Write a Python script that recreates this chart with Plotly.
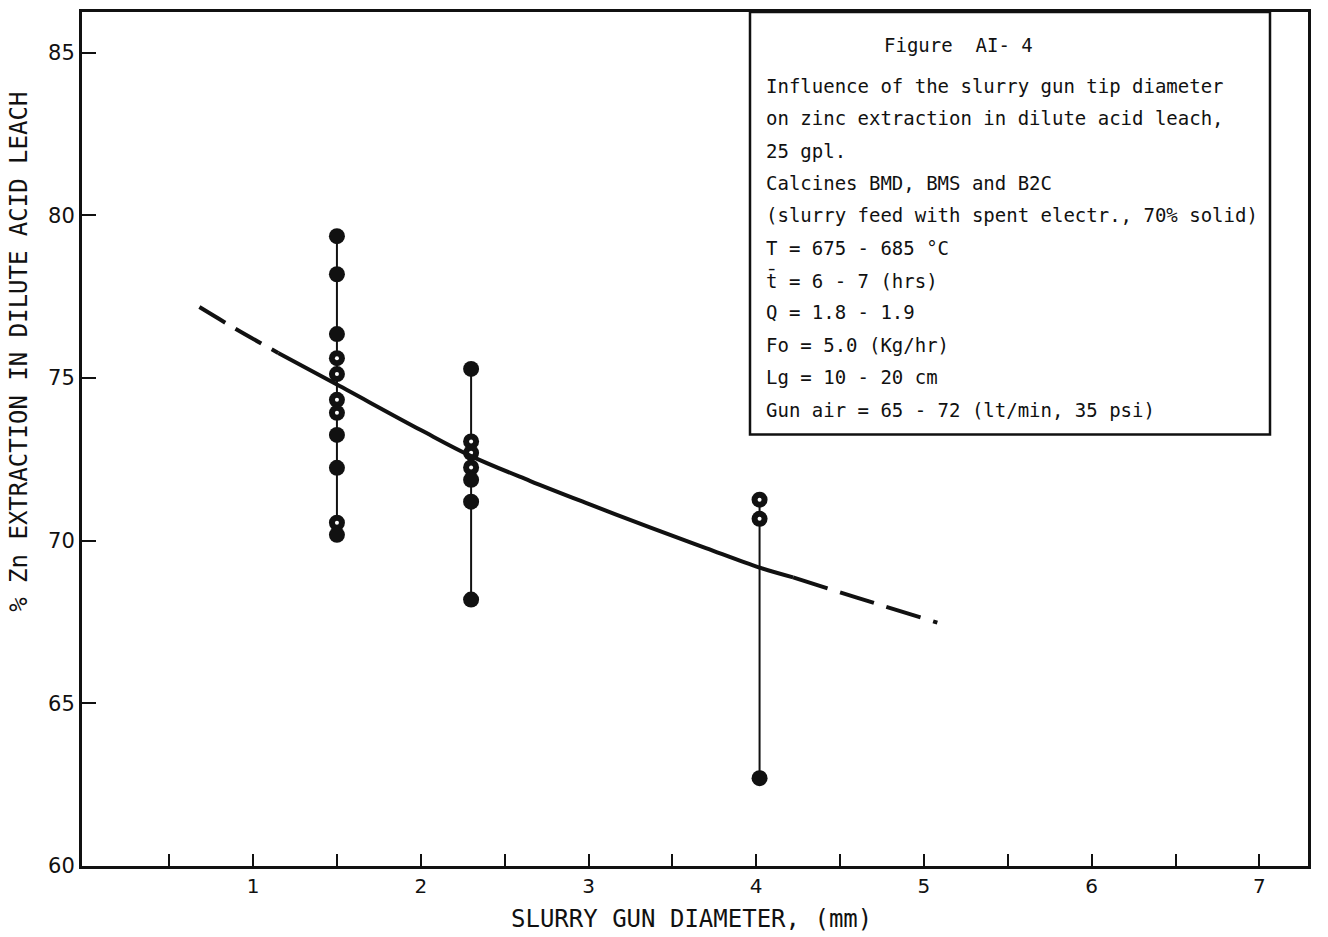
import plotly.graph_objects as go

# ---------------- data ----------------
diameters = [1.5, 2.3, 4.02]
extraction_d15 = [79.36, 78.19, 76.35, 75.61, 75.12, 74.33, 73.93, 73.25, 72.24, 70.55, 70.18]
ringed_d15 = [False, False, False, True, True, True, True, False, False, True, False]
extraction_d23 = [75.28, 73.05, 72.7, 72.25, 71.87, 71.2, 68.19]
ringed_d23 = [False, True, True, True, False, False, False]
extraction_d40 = [71.26, 70.67, 62.7]
ringed_d40 = [True, True, False]

curve_left_x = [0.68, 0.9, 1.15]
curve_left_y = [77.18, 76.5, 75.77]
curve_mid_x = [1.15, 1.5, 2.0, 2.3, 2.65, 3.0, 3.37, 3.7, 4.02, 4.22]
curve_mid_y = [75.77, 74.8, 73.4, 72.6, 71.84, 71.13, 70.4, 69.77, 69.17, 68.87]
curve_right_x = [4.22, 4.6, 5.08]
curve_right_y = [68.87, 68.25, 67.48]

x_ticks = [1, 2, 3, 4, 5, 6, 7]
y_ticks = [60, 65, 70, 75, 80, 85]

box_lines = [
    "Influence of the slurry gun tip diameter",
    "on zinc extraction in dilute acid leach,",
    "25 gpl.",
    "Calcines BMD, BMS and B2C",
    "(slurry feed with spent electr., 70% solid)",
    "T = 675 - 685 °C",
    "t\u0304 = 6 - 7 (hrs)",
    "Q = 1.8 - 1.9",
    "Fo = 5.0 (Kg/hr)",
    "Lg = 10 - 20 cm",
    "Gun air = 65 - 72 (lt/min, 35 psi)",
]
box_title = "Figure  AI- 4"

FONT = "DejaVu Sans"
LETTER = "DejaVu Sans Mono"
BLACK = "#111111"

fig = go.Figure()

columns = [(diameters[0], extraction_d15, ringed_d15),
           (diameters[1], extraction_d23, ringed_d23),
           (diameters[2], extraction_d40, ringed_d40)]

for d, vals, ring in columns:
    fig.add_trace(go.Scatter(x=[d, d], y=[max(vals), min(vals)], mode="lines",
                             line=dict(color=BLACK, width=2), showlegend=False,
                             hoverinfo="skip"))

for d, vals, ring in columns:
    fig.add_trace(go.Scatter(x=[d] * len(vals), y=vals, mode="markers",
                             marker=dict(size=16, color=BLACK, symbol="circle",
                                         line=dict(width=0)),
                             showlegend=False))
    rx = [d for v, r in zip(vals, ring) if r]
    ry = [v for v, r in zip(vals, ring) if r]
    fig.add_trace(go.Scatter(x=rx, y=ry, mode="markers",
                             marker=dict(size=4, color="white", symbol="circle",
                                         line=dict(width=0)),
                             showlegend=False, hoverinfo="skip"))

fig.add_trace(go.Scatter(x=curve_left_x, y=curve_left_y, mode="lines",
                         line=dict(color=BLACK, width=4, dash="30px,12px", shape="spline"),
                         showlegend=False))
fig.add_trace(go.Scatter(x=curve_mid_x, y=curve_mid_y, mode="lines",
                         line=dict(color=BLACK, width=4, shape="spline"),
                         showlegend=False))
fig.add_trace(go.Scatter(x=curve_right_x, y=curve_right_y, mode="lines",
                         line=dict(color=BLACK, width=4, dash="36px,13px", shape="spline"),
                         showlegend=False))

# layout geometry (pixels)
L, R, T, B = 82, 20, 9, 71
W, H = 1328, 937
pw, ph = W - L - R, H - T - B


def px_to_paper_x(px):
    return (px - L) / pw


def px_to_paper_y(py):
    return (H - B - py) / ph


annotations = []
annotations.append(dict(text=box_title, x=px_to_paper_x(958), y=px_to_paper_y(42),
                        xref="paper", yref="paper", showarrow=False,
                        xanchor="center", yanchor="middle",
                        font=dict(family=LETTER, size=19, color=BLACK)))
for i, line in enumerate(box_lines):
    annotations.append(dict(text=line, x=px_to_paper_x(764), y=px_to_paper_y(83 + 32.5 * i),
                            xref="paper", yref="paper", showarrow=False,
                            xanchor="left", yanchor="middle",
                            font=dict(family=LETTER, size=19, color=BLACK)))

annotations.append(dict(text="% Zn EXTRACTION IN DILUTE ACID LEACH",
                        x=px_to_paper_x(19), y=px_to_paper_y(350), xref="paper", yref="paper",
                        showarrow=False, textangle=-90, xanchor="center", yanchor="middle",
                        font=dict(family=LETTER, size=24, color=BLACK)))
annotations.append(dict(text="SLURRY GUN DIAMETER, (mm)",
                        x=px_to_paper_x(691), y=px_to_paper_y(919), xref="paper", yref="paper",
                        showarrow=False, xanchor="center", yanchor="middle",
                        font=dict(family=LETTER, size=24, color=BLACK)))

fig.update_layout(
    width=W, height=H, autosize=False,
    margin=dict(l=L, r=R, t=T, b=B),
    paper_bgcolor="white", plot_bgcolor="white",
    font=dict(family=FONT, color=BLACK),
    annotations=annotations,
    shapes=[dict(type="rect", xref="paper", yref="paper",
                 x0=px_to_paper_x(750), x1=px_to_paper_x(1270),
                 y0=px_to_paper_y(433), y1=px_to_paper_y(9),
                 line=dict(color=BLACK, width=2.5), fillcolor="white", layer="below")],
)

fig.update_xaxes(range=[-0.02, 7.29], tickvals=x_ticks, ticktext=[str(v) for v in x_ticks],
                 ticks="inside", ticklen=12, tickwidth=2, tickcolor=BLACK,
                 minor=dict(tickvals=[0.5, 1.5, 2.5, 3.5, 4.5, 5.5, 6.5], ticks="inside",
                            ticklen=12, tickwidth=2, tickcolor=BLACK, showgrid=False),
                 showline=True, linewidth=3, linecolor=BLACK, mirror=True,
                 showgrid=False, zeroline=False,
                 tickfont=dict(family=FONT, size=20, color=BLACK))
fig.update_yaxes(range=[60, 86.25], tickvals=y_ticks, ticktext=[str(v) for v in y_ticks],
                 ticks="inside", ticklen=14, tickwidth=2, tickcolor=BLACK,
                 showline=True, linewidth=3, linecolor=BLACK, mirror=True,
                 showgrid=False, zeroline=False,
                 tickfont=dict(family=FONT, size=21, color=BLACK))

fig.write_html("out.html")
